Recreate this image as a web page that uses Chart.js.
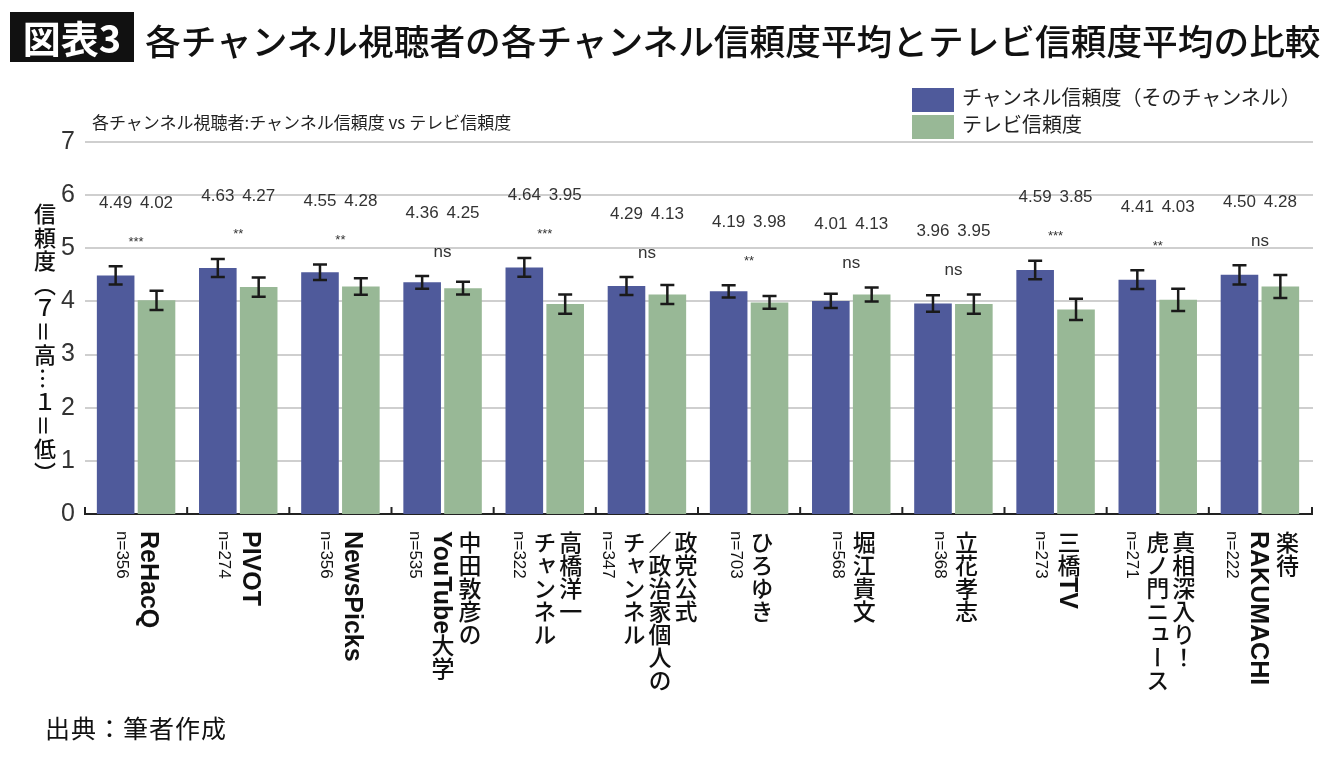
<!DOCTYPE html>
<html lang="ja">
<head>
<meta charset="utf-8">
<script src="https://cdn.jsdelivr.net/npm/chart.js@4/dist/chart.umd.min.js"></script>
<style>
body{margin:0;background:#fff;font-family:"Noto Sans CJK JP",sans-serif;color:#111;}
#wrap{position:relative;width:1340px;height:758px;overflow:hidden;background:#fff;}
#wrap canvas{position:absolute;left:0;top:0;}
.tag{position:absolute;left:10px;top:12px;width:124px;height:50px;background:#111;color:#fff;font:700 38px/50px "Noto Sans CJK JP";text-align:center;}
.title{position:absolute;left:145px;top:15px;font:500 35.7px/50px "Noto Sans CJK JP";white-space:nowrap;}
.sub{position:absolute;left:92px;top:110px;font:400 17px/24px "Noto Sans CJK JP";white-space:nowrap;color:#222;}
.leg{position:absolute;left:912px;font:400 20px/25px "Noto Sans CJK JP";white-space:nowrap;color:#222;}
.leg i{display:inline-block;width:42px;height:24px;vertical-align:middle;margin-right:8px;}
.ytitle{position:absolute;left:34px;top:203px;writing-mode:vertical-rl;font:500 22px/22px "Noto Sans CJK JP";letter-spacing:1.5px;white-space:nowrap;}
.xl{position:absolute;top:531px;transform:translateX(-50%);writing-mode:vertical-rl;font:500 23px/26px "Noto Sans CJK JP";white-space:nowrap;}
.xl b{font:700 25px "Liberation Sans";}
.xl .n{font:400 17px "Liberation Sans";}
.foot{position:absolute;left:45px;top:710px;font:400 25px/34px "Noto Sans CJK JP";letter-spacing:1px;white-space:nowrap;}
</style>
</head>
<body>
<div id="wrap">
<canvas id="chart" width="1340" height="758"></canvas>
<div class="tag">図表3</div>
<div class="title">各チャンネル視聴者の各チャンネル信頼度平均とテレビ信頼度平均の比較</div>
<div class="sub">各チャンネル視聴者:チャンネル信頼度 vs テレビ信頼度</div>
<div class="ytitle">信頼度（７＝高…１＝低）</div>
<div class="foot">出典：筆者作成</div>
</div>
<script>
// data
const categories = [
  "ReHacQ", "PIVOT", "NewsPicks", "中田敦彦の\nYouTube大学", "高橋洋一\nチャンネル",
  "政党公式\n／政治家個人の\nチャンネル", "ひろゆき", "堀江貴文", "立花孝志", "三橋TV",
  "真相深入り！\n虎ノ門ニュース", "楽待\nRAKUMACHI"
];
const sampleN = [356, 274, 356, 535, 322, 347, 703, 568, 368, 273, 271, 222];
const channelMean = [4.49, 4.63, 4.55, 4.36, 4.64, 4.29, 4.19, 4.01, 3.96, 4.59, 4.41, 4.50];
const tvMean = [4.02, 4.27, 4.28, 4.25, 3.95, 4.13, 3.98, 4.13, 3.95, 3.85, 4.03, 4.28];
const channelErr = [0.17, 0.17, 0.145, 0.12, 0.175, 0.17, 0.115, 0.135, 0.155, 0.175, 0.175, 0.18];
const tvErr = [0.18, 0.18, 0.155, 0.12, 0.18, 0.18, 0.12, 0.13, 0.18, 0.2, 0.21, 0.215];
const signif = ["***", "**", "**", "ns", "***", "ns", "**", "ns", "ns", "***", "**", "ns"];
const seriesNames = ["チャンネル信頼度（そのチャンネル）", "テレビ信頼度"];
const seriesColors = ["#4f5a9b", "#98b896"];
const yTicks = [0, 1, 2, 3, 4, 5, 6, 7];

// outer edges of the category band, taken from the scale itself
function bandEdges(x) {
  const step = x.getPixelForValue(1) - x.getPixelForValue(0);
  return {
    step,
    left: x.getPixelForValue(0) - step / 2,
    right: x.getPixelForValue(categories.length - 1) + step / 2
  };
}

// horizontal grid, drawn across the category band only
const grid = {
  id: "grid",
  beforeDatasetsDraw(chart) {
    const ctx = chart.ctx, y = chart.scales.y;
    const e = bandEdges(chart.scales.x);
    ctx.save();
    ctx.lineWidth = 2;
    yTicks.forEach(v => {
      const py = Math.round(y.getPixelForValue(v));
      ctx.strokeStyle = v === 0 ? "#222" : "#cfcfcf";
      ctx.beginPath();
      ctx.moveTo(e.left, py); ctx.lineTo(e.right + 2, py);
      ctx.stroke();
    });
    ctx.restore();
  }
};

// error bars, mean labels, significance marks, small ticks on the base line
const marks = {
  id: "marks",
  afterDatasetsDraw(chart) {
    const ctx = chart.ctx, x = chart.scales.x, y = chart.scales.y;
    const m0 = chart.getDatasetMeta(0), m1 = chart.getDatasetMeta(1);
    ctx.save();
    ctx.strokeStyle = "#1a1a1a";
    ctx.lineWidth = 2.5;
    [[m0, channelMean, channelErr], [m1, tvMean, tvErr]].forEach(([meta, vals, errs]) => {
      meta.data.forEach((bar, i) => {
        const t = y.getPixelForValue(vals[i] + errs[i]);
        const b = y.getPixelForValue(vals[i] - errs[i]);
        ctx.beginPath();
        ctx.moveTo(bar.x, t); ctx.lineTo(bar.x, b);
        ctx.moveTo(bar.x - 7, t); ctx.lineTo(bar.x + 7, t);
        ctx.moveTo(bar.x - 7, b); ctx.lineTo(bar.x + 7, b);
        ctx.stroke();
      });
    });

    ctx.fillStyle = "#333";
    ctx.textAlign = "center";
    ctx.textBaseline = "middle";
    categories.forEach((c, i) => {
      const hi = Math.max(channelMean[i] + channelErr[i], tvMean[i] + tvErr[i]);
      const py = y.getPixelForValue(hi);
      ctx.font = "17px 'Liberation Sans'";
      ctx.fillText(channelMean[i].toFixed(2), m0.data[i].x, py - 63);
      ctx.fillText(tvMean[i].toFixed(2), m1.data[i].x, py - 63);
      ctx.font = signif[i] === "ns" ? "17px 'Liberation Sans'" : "13px 'Liberation Sans'";
      ctx.fillText(signif[i], x.getPixelForValue(i), py - 24);
    });

    const base = Math.round(y.getPixelForValue(0));
    const e = bandEdges(x);
    ctx.strokeStyle = "#222";
    ctx.lineWidth = 2;
    ctx.beginPath();
    for (let k = 0; k <= categories.length; k++) {
      const bx = e.left + k * e.step + (k === categories.length ? 1 : 0);
      ctx.moveTo(bx, base - 7); ctx.lineTo(bx, base + 1);
    }
    ctx.stroke();
    ctx.restore();
  }
};

const chart = new Chart(document.getElementById("chart"), {
  type: "bar",
  data: {
    labels: categories,
    datasets: [
      { label: seriesNames[0], data: channelMean, backgroundColor: seriesColors[0], categoryPercentage: 0.8, barPercentage: 0.92 },
      { label: seriesNames[1], data: tvMean, backgroundColor: seriesColors[1], categoryPercentage: 0.8, barPercentage: 0.92 }
    ]
  },
  options: {
    responsive: false,
    animation: false,
    layout: { padding: { left: 45, right: 29, top: 142, bottom: 244 } },
    plugins: { legend: { display: false }, tooltip: { enabled: false } },
    scales: {
      x: {
        grid: { display: false },
        border: { display: false },
        ticks: { display: false },
        afterFit(s) { s.height = 0; }
      },
      y: {
        min: 0,
        max: 7,
        afterBuildTicks(s) { s.ticks = yTicks.map(v => ({ value: v })); },
        ticks: { font: { family: "Liberation Sans", size: 25 }, color: "#333", padding: 10 },
        grid: { display: false, drawTicks: false },
        border: { display: false },
        afterFit(s) { s.width = 40; }
      }
    }
  },
  plugins: [grid, marks]
});

// legend and vertical category labels as page text
const wrap = document.getElementById("wrap");
seriesNames.forEach((name, k) => {
  const d = document.createElement("div");
  d.className = "leg";
  d.style.top = (84 + k * 27) + "px";
  d.innerHTML = '<i style="background:' + seriesColors[k] + '"></i>' + name;
  wrap.appendChild(d);
});

const xs = chart.scales.x;
categories.forEach((name, i) => {
  const d = document.createElement("div");
  d.className = "xl";
  d.style.left = xs.getPixelForValue(i) + "px";
  d.innerHTML = name.split("\n").map(s => s.replace(/([A-Za-z]+)/g, "<b>$1</b>")).join("<br>") +
    '<br><span class="n">n=' + sampleN[i] + "</span>";
  wrap.appendChild(d);
});
</script>
</body>
</html>
